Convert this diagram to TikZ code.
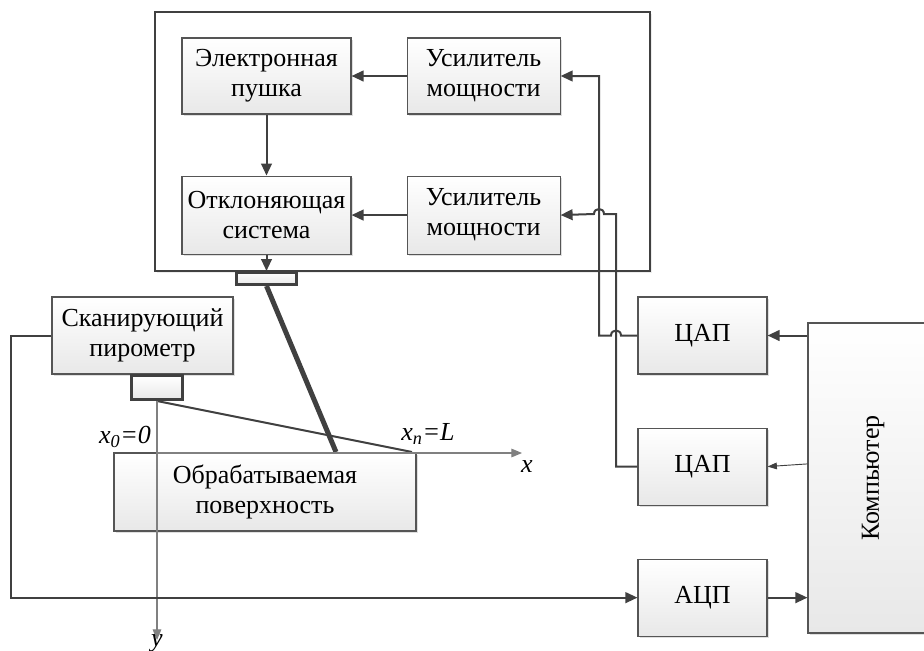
\documentclass[tikz,border=0pt]{standalone}
\usepackage{fontspec}
\setmainfont{Liberation Serif}
\usetikzlibrary{arrows.meta}
\usetikzlibrary{positioning}
\usetikzlibrary{shadows}

\definecolor{linegray}{HTML}{404040}
\definecolor{edgegray}{HTML}{555555}

\begin{document}
\begin{tikzpicture}[x=0.75pt, y=-0.75pt, node distance=41.25pt, align=center,
	font=\fontsize{19.5}{22.5}\selectfont,
	>={Triangle[length=9pt, width=8pt]},
	block/.style={rectangle, draw=edgegray, line width=0.8pt, top color=white, bottom color=black!9, inner sep=0pt,
		drop shadow={shadow xshift=1.2pt, shadow yshift=-1.2pt, fill=black!25}},
	probe/.style={block, draw=linegray, line width=2.25pt},
	link/.style={draw=linegray, line width=1.5pt},
	axis/.style={draw=black!50, line width=0.8pt, -{Triangle[length=8pt, width=6.5pt]}},
]
\useasboundingbox (0,0) rectangle (924,650);
% frame round the gun unit
\node [rectangle, draw=linegray, line width=0.8pt, fill=white, minimum width=371.25pt, minimum height=194.25pt,
	drop shadow={shadow xshift=1.2pt, shadow yshift=-1.2pt, fill=black!15}] at (402.5,141.5) (Frame) {};
\node [block, minimum width=126.75pt, minimum height=57pt] at (266.5,76) (Gun) {Электронная\\пушка};
\node [block, minimum width=114.75pt, minimum height=57pt] (AmpTop) [right=of Gun] {Усилитель\\мощности};
\node [block, minimum width=126.75pt, minimum height=58.5pt] (Deflect) [below=45.75pt of Gun] {Отклоняющая\\система};
\node [block, minimum width=114.75pt, minimum height=58.5pt] (AmpBottom) [right=of Deflect] {Усилитель\\мощности};
\node [probe, minimum width=45pt, minimum height=9pt] at (266.5,278.5) (Emitter) {};
\node [block, minimum width=135.75pt, minimum height=57.75pt] at (142.5,335.5) (Pyrometer) {Сканирующий\\пирометр};
\node [probe, minimum width=38.25pt, minimum height=18pt] at (157,387.5) (Sensor) {};
\node [block, minimum width=226.5pt, minimum height=58.5pt] at (265,492) (Surface) {Обрабатываемая\\поверхность};
\node [block, minimum width=96.75pt, minimum height=57.75pt] at (702.5,335.5) (DAC_top) {ЦАП};
\node [block, minimum width=96.75pt, minimum height=57.75pt] (DAC_bottom) [below=39.75pt of DAC_top] {ЦАП};
\node [block, minimum width=96.75pt, minimum height=57.75pt] (ADC) [below=39.75pt of DAC_bottom] {АЦП};
\node [block, minimum width=97.5pt, minimum height=232.5pt, label={[rotate=90]center:Компьютер}] at (873,478) (PC) {};
%
\coordinate (BeamSpot) at (336,452);
\coordinate (ViewEnd) at (412,452);
\coordinate (Origin) at (157,453);
%
\draw [link, ->] (AmpTop) -- (Gun);
\draw [link, ->] (AmpBottom) -- (Deflect);
\draw [link, ->] (Gun) -- (Deflect);
\draw [link, ->] (Deflect) -- (Emitter);
\draw [linegray, line width=3.75pt] (Emitter.south) -- (BeamSpot);
\draw [linegray, line width=1.5pt] (Sensor.south) -- (ViewEnd);
\draw [axis] (Sensor.south) -- (157,640);
\draw [axis] (Origin) -- (522,453);
\node at (125,437) {\textit{x\textsubscript{0}=0}};
\node at (428,434) {\textit{x\textsubscript{n}=L}};
\node at (527,467) {\textit{x}};
\node [anchor=base] at (157,646) {\textit{y}};
%
\draw [link, ->] (Pyrometer.west) --++ (-40,0) |- (ADC.west);
\draw [link, ->] (DAC_top.west) -- (621,335.5) .. controls (621,328.8) and (611,328.8) .. (611,335.5) -- (599,335.5) |- (AmpTop.east);
\draw [link, ->] (DAC_bottom.west) -| (616,214) -- (604,214) .. controls (604,207.3) and (594,207.3) .. (594,214) -- (AmpBottom.east);
\draw [link, ->] (PC.west |- DAC_top.east) -- (DAC_top.east);
\draw [linegray, line width=0.7pt, -{Triangle[length=7pt, width=5pt]}] ([yshift=2pt]PC.west |- DAC_bottom.east) -- (DAC_bottom.east);
\draw [link, ->] (ADC) -- (ADC.east -| PC.west);
\end{tikzpicture}
\end{document}
